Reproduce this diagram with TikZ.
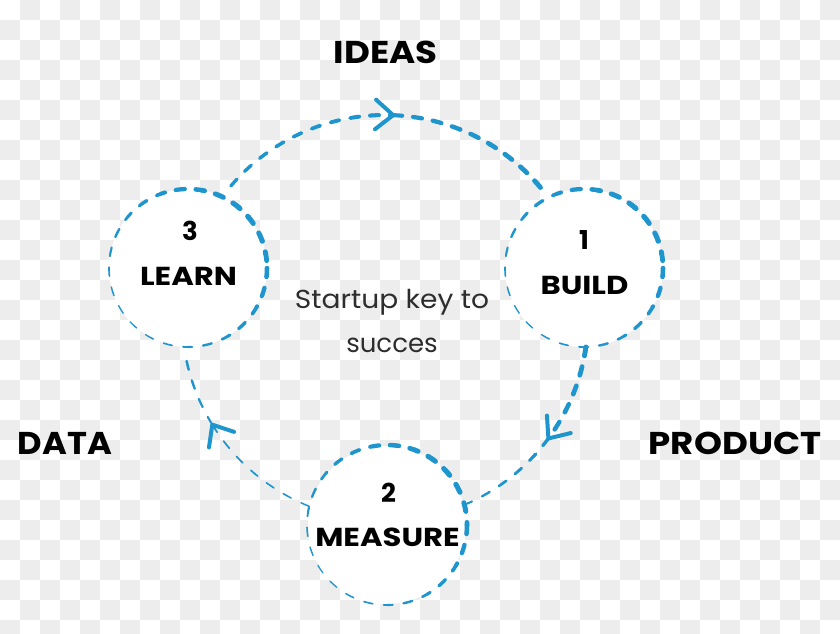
\documentclass[tikz,border=0pt]{standalone}
\usepackage{fontspec}
\usepackage{graphicx}
\setmainfont{Poppins}
\usetikzlibrary{arrows.meta}
\definecolor{cyc}{RGB}{30,150,205}
\definecolor{chk}{RGB}{237,237,237}
\definecolor{txt}{RGB}{45,45,45}
\newcommand\dashcirc[2]{%
  \foreach \k in {0,...,35}{%
    \pgfmathsetmacro\pa{\k*10}%
    \pgfmathsetmacro\pb{\k*10+10}%
    \pgfmathsetmacro\w{3.2+1.9*cos(\pa+5+40)}%
    \pgfmathsetmacro\ph{(#2*pi/180)*\pa}%
    \draw[ring, line width=\w pt, dash phase=\ph pt] (#1) ++(\pa:#2) arc[start angle=\pa, end angle=\pb, radius=#2];
  }}
\newcommand\bigarc[4]{%
  \foreach \k in {0,...,9}{%
    \pgfmathsetmacro\pa{#1+(#2-(#1))*\k/10}%
    \pgfmathsetmacro\pb{#1+(#2-(#1))*(\k+1)/10}%
    \pgfmathsetmacro\w{#3+(#4-(#3))*(\k+0.5)/10}%
    \pgfmathsetmacro\ph{(203*pi/180)*(\pa-(#1))}%
    \draw[ring, line width=\w pt, dash phase=\ph pt] (bigc) ++(\pa:203) arc[start angle=\pa, end angle=\pb, radius=203];
  }}
\newcommand\wideA[1]{\scalebox{1.13}[1]{#1}}
\newcommand\wideB[1]{\scalebox{1.18}[1]{#1}}
\begin{document}
\begin{tikzpicture}[x=1pt,y=-1pt,
  ring/.style={draw=cyc, dash pattern=on 9pt off 11pt, line cap=round},
  lab/.style={font=\bfseries\fontsize{31.5}{31.5}\selectfont, inner sep=0pt, text=black},
  inlab/.style={font=\bfseries\fontsize{26}{26}\selectfont, inner sep=0pt, text=black},
  midtxt/.style={font=\fontsize{26}{26}\selectfont, inner sep=0pt, text=txt, anchor=base},
  stage/.style={circle, fill=white, minimum size=158pt, inner sep=0pt},
  chev/.style={draw=cyc, line width=4pt, line cap=round, line join=round}]
\useasboundingbox (0,0) rectangle (840,634);
\fill[white] (0,0) rectangle (840,634);
\foreach \i in {0,...,41}{\foreach \j in {0,...,31}{%
  \pgfmathparse{int(mod(\i+\j,2))}%
  \ifnum\pgfmathresult=1 \fill[chk] (\i*20,\j*20) rectangle ++(20,20);\fi}}
% stages
\node[stage] (learn) at (188,268) {};
\node[stage] (build) at (584,268) {};
\node[stage] (measure) at (387,525) {};
\dashcirc{learn}{79}
\dashcirc{build}{79}
\dashcirc{measure}{80}
% cycle
\coordinate (bigc) at (385,318);
\path (bigc) ++(-87.7:203) coordinate (tipA);
\path (bigc) ++(36.4:203) coordinate (tipB);
\path (bigc) ++(148.3:203) coordinate (tipC);
\bigarc{-139.4}{-88.5}{3.3}{4.1}
\bigarc{-87.7}{-39.5}{4.1}{4.9}
\bigarc{8.2}{35.6}{4.9}{4.3}
\bigarc{36.4}{67.4}{3.5}{2.0}
\bigarc{111.9}{147.5}{1.5}{1.8}
\bigarc{148.3}{170.4}{2.0}{2.6}
\draw[chev] (tipA) ++(-137.7:23) -- (tipA) -- ++(142.3:23);
\draw[chev] (tipB) ++(-13.6:23) -- (tipB) -- ++(-93.6:23);
\draw[chev] (tipC) ++(98.3:23) -- (tipC) -- ++(18.3:23);
% labels
\node[lab] (ideas) at (385.5,52.5) {\wideA{IDEAS}};
\node[lab] (data) at (65,443.5) {\scalebox{1.07}[1]{DATA}};
\node[lab] (product) at (735,443.5) {\wideA{PRODUCT}};
\node[inlab] (n3) at (190,231) {3};
\node[inlab] (t3) at (188.5,276) {\wideB{LEARN}};
\node[inlab] (n1) at (584,240) {1};
\node[inlab] (t1) at (584.5,285) {\wideB{BUILD}};
\node[inlab] (n2) at (388.5,492.5) {2};
\node[inlab] (t2) at (387.5,537.5) {\wideB{MEASURE}};
\node[midtxt] (m1) at (392,308) {\scalebox{1.08}[1]{Startup key to}};
\node[midtxt] (m2) at (392,352) {succes};
\end{tikzpicture}
\end{document}
